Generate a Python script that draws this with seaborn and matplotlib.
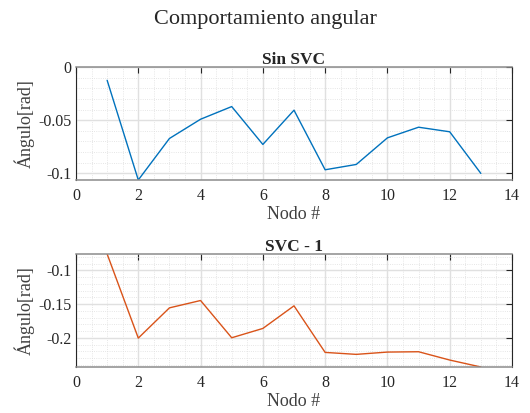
import numpy as np
import pandas as pd
import matplotlib
matplotlib.use("Agg")
import matplotlib.pyplot as plt
from matplotlib.ticker import MultipleLocator
import seaborn as sns

nodos = [1, 2, 3, 4, 5, 6, 7, 8, 9, 10, 11, 12, 13]
angulo_sin_svc = [-0.0125, -0.1062, -0.0672, -0.0491, -0.0372, -0.0728, -0.0406,
                  -0.0966, -0.0916, -0.0666, -0.0566, -0.0609, -0.1000]
angulo_svc1 = [-0.0759, -0.2005, -0.1557, -0.1448, -0.2000, -0.1862, -0.1527,
               -0.2217, -0.2246, -0.2212, -0.2207, -0.2330, -0.2433]

sns.set_theme(style="white")
plt.rcParams['font.family'] = ['Liberation Serif', 'DejaVu Serif']

fig = plt.figure(figsize=(5.30, 4.13), dpi=100)
ax1 = fig.add_axes([0.1434, 0.5642, 0.8226, 0.2736])
ax2 = fig.add_axes([0.1434, 0.1114, 0.8226, 0.2736])

df1 = pd.DataFrame({'nodo': nodos, 'ang': angulo_sin_svc})
df2 = pd.DataFrame({'nodo': nodos, 'ang': angulo_svc1})

sns.lineplot(data=df1, x='nodo', y='ang', ax=ax1, color='#0072BD', linewidth=1.0)
sns.lineplot(data=df2, x='nodo', y='ang', ax=ax2, color='#D95319', linewidth=1.0)

ax1.set_ylim(min(angulo_sin_svc), 0)
ax1.set_yticks([-0.1, -0.05, 0])
ax1.set_yticklabels(['-0.1', '-0.05', '0'])
ax1.yaxis.set_minor_locator(MultipleLocator(0.01))
ax1.set_title('Sin SVC', fontsize=12.5, fontweight='bold', pad=2.5)

ax2.set_ylim(min(angulo_svc1), max(angulo_svc1))
ax2.set_yticks([-0.2, -0.15, -0.1])
ax2.set_yticklabels(['-0.2', '-0.15', '-0.1'])
ax2.yaxis.set_minor_locator(MultipleLocator(0.01))
ax2.set_title('SVC - 1', fontsize=12.5, fontweight='bold', pad=2.5)

for ax in (ax1, ax2):
    ax.set_xlim(0, 14)
    ax.set_xticks(range(0, 15, 2))
    ax.xaxis.set_minor_locator(MultipleLocator(0.5))
    ax.set_xlabel('Nodo #', fontsize=13, color='#404040', labelpad=2)
    ax.set_ylabel('Ángulo[rad]', fontsize=13, color='#404040', labelpad=3)
    ax.grid(which='major', color='#e0e0e0', linewidth=1.0, linestyle='-')
    ax.grid(which='minor', color='#dedede', linewidth=0.6, linestyle=':')
    ax.set_axisbelow(True)
    ax.tick_params(which='both', direction='in', top=True, right=True,
                   labelsize=11.5, colors='#262626', labelcolor='#262626')
    ax.tick_params(which='major', length=4, width=0.8)
    ax.tick_params(axis='x', which='major', pad=5.5)
    ax.tick_params(axis='y', which='major', pad=3)
    ax.tick_params(which='minor', length=0)
    for side, s in ax.spines.items():
        if side in ('top', 'bottom'):
            s.set_color('#8c8c8c')
            s.set_linewidth(1.1)
        else:
            s.set_color('#262626')
            s.set_linewidth(0.8)

fig.suptitle('Comportamiento angular', fontsize=16, y=0.975)

fig.savefig('out.png', dpi=100)
